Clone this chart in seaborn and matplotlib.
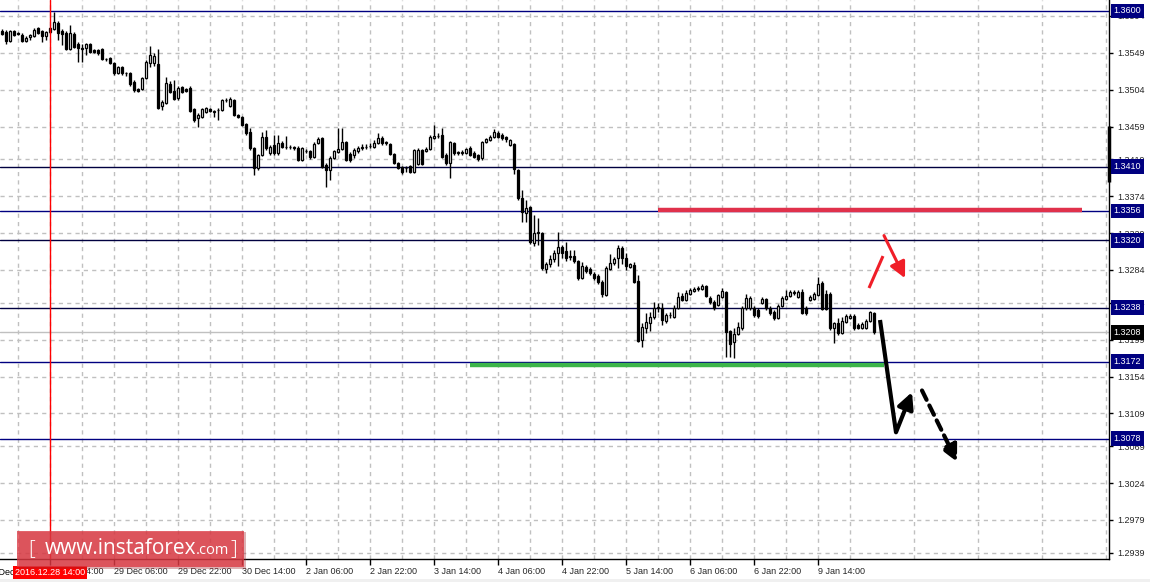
import matplotlib
matplotlib.use("Agg")
import matplotlib.pyplot as plt
import matplotlib.transforms as mtransforms
from matplotlib.patches import Rectangle
import seaborn as sns
import numpy as np

# --- hourly candles (27 Dec 2016 -> 9 Jan 2017) ---
opens = [1.3576, 1.3574, 1.3563, 1.3576, 1.3573, 1.3571, 1.3563, 1.3568, 1.3569, 1.3579,
         1.3576, 1.3569, 1.3579, 1.3578, 1.3585, 1.3576, 1.3573, 1.3554, 1.3572, 1.3560,
         1.3555, 1.3555, 1.3560, 1.3552, 1.3552, 1.3554, 1.3541, 1.3543, 1.3536, 1.3524,
         1.3532, 1.3524, 1.3524, 1.3513, 1.3505, 1.3505, 1.3518, 1.3536, 1.3536, 1.3535,
         1.3484, 1.3488, 1.3511, 1.3502, 1.3494, 1.3507, 1.3505, 1.3506, 1.3480, 1.3469,
         1.3471, 1.3477, 1.3480, 1.3477, 1.3479, 1.3479, 1.3491, 1.3484, 1.3491, 1.3473,
         1.3471, 1.3462, 1.3452, 1.3433, 1.3408, 1.3424, 1.3446, 1.3427, 1.3436, 1.3427,
         1.3439, 1.3434, 1.3434, 1.3434, 1.3433, 1.3418, 1.3429, 1.3429, 1.3422, 1.3439,
         1.3445, 1.3412, 1.3406, 1.3421, 1.3428, 1.3432, 1.3440, 1.3425, 1.3424, 1.3429,
         1.3433, 1.3434, 1.3435, 1.3434, 1.3439, 1.3445, 1.3439, 1.3438, 1.3425, 1.3414,
         1.3410, 1.3408, 1.3411, 1.3404, 1.3413, 1.3430, 1.3429, 1.3432, 1.3445, 1.3447,
         1.3449, 1.3424, 1.3414, 1.3439, 1.3427, 1.3427, 1.3427, 1.3433, 1.3427, 1.3424,
         1.3421, 1.3440, 1.3443, 1.3446, 1.3451, 1.3449, 1.3446, 1.3436, 1.3438, 1.3406,
         1.3372, 1.3353, 1.3361, 1.3317, 1.3329, 1.3329, 1.3285, 1.3291, 1.3297, 1.3305,
         1.3312, 1.3307, 1.3300, 1.3301, 1.3295, 1.3274, 1.3288, 1.3285, 1.3279, 1.3277,
         1.3269, 1.3253, 1.3285, 1.3292, 1.3299, 1.3311, 1.3299, 1.3288, 1.3290, 1.3271,
         1.3199, 1.3213, 1.3219, 1.3227, 1.3238, 1.3238, 1.3222, 1.3229, 1.3227, 1.3238,
         1.3252, 1.3247, 1.3255, 1.3258, 1.3261, 1.3261, 1.3264, 1.3250, 1.3245, 1.3241,
         1.3251, 1.3257, 1.3210, 1.3196, 1.3206, 1.3213, 1.3238, 1.3238, 1.3238, 1.3235,
         1.3244, 1.3249, 1.3238, 1.3233, 1.3225, 1.3240, 1.3249, 1.3252, 1.3256, 1.3251,
         1.3257, 1.3238, 1.3247, 1.3249, 1.3253, 1.3268, 1.3255, 1.3255, 1.3213, 1.3219,
         1.3207, 1.3221, 1.3225, 1.3228, 1.3217, 1.3213, 1.3213, 1.3222, 1.3231]
highs = [1.3578, 1.3577, 1.3577, 1.3577, 1.3574, 1.3573, 1.3569, 1.3572, 1.3579, 1.3581,
         1.3577, 1.3576, 1.3581, 1.3599, 1.3588, 1.3578, 1.3576, 1.3583, 1.3574, 1.3562,
         1.3560, 1.3561, 1.3561, 1.3554, 1.3554, 1.3555, 1.3543, 1.3544, 1.3538, 1.3533,
         1.3533, 1.3526, 1.3526, 1.3516, 1.3506, 1.3519, 1.3540, 1.3557, 1.3549, 1.3554,
         1.3491, 1.3519, 1.3515, 1.3516, 1.3508, 1.3508, 1.3506, 1.3508, 1.3482, 1.3475,
         1.3482, 1.3483, 1.3482, 1.3479, 1.3482, 1.3493, 1.3494, 1.3495, 1.3493, 1.3474,
         1.3472, 1.3463, 1.3457, 1.3434, 1.3425, 1.3452, 1.3455, 1.3436, 1.3449, 1.3449,
         1.3441, 1.3447, 1.3436, 1.3435, 1.3435, 1.3434, 1.3432, 1.3430, 1.3440, 1.3446,
         1.3446, 1.3414, 1.3423, 1.3430, 1.3457, 1.3457, 1.3441, 1.3428, 1.3433, 1.3435,
         1.3438, 1.3438, 1.3439, 1.3443, 1.3451, 1.3447, 1.3441, 1.3439, 1.3427, 1.3416,
         1.3411, 1.3411, 1.3412, 1.3432, 1.3433, 1.3432, 1.3434, 1.3449, 1.3461, 1.3451,
         1.3457, 1.3427, 1.3441, 1.3440, 1.3429, 1.3430, 1.3433, 1.3435, 1.3429, 1.3425,
         1.3441, 1.3445, 1.3449, 1.3456, 1.3454, 1.3451, 1.3447, 1.3444, 1.3439, 1.3407,
         1.3382, 1.3369, 1.3362, 1.3351, 1.3347, 1.3330, 1.3294, 1.3302, 1.3308, 1.3330,
         1.3314, 1.3318, 1.3308, 1.3308, 1.3296, 1.3294, 1.3290, 1.3288, 1.3282, 1.3279,
         1.3272, 1.3289, 1.3303, 1.3300, 1.3314, 1.3313, 1.3305, 1.3292, 1.3294, 1.3278,
         1.3219, 1.3231, 1.3233, 1.3245, 1.3244, 1.3244, 1.3231, 1.3233, 1.3241, 1.3257,
         1.3256, 1.3260, 1.3262, 1.3263, 1.3264, 1.3267, 1.3266, 1.3252, 1.3247, 1.3255,
         1.3262, 1.3258, 1.3211, 1.3213, 1.3221, 1.3240, 1.3255, 1.3252, 1.3240, 1.3238,
         1.3251, 1.3250, 1.3240, 1.3235, 1.3242, 1.3252, 1.3260, 1.3260, 1.3260, 1.3260,
         1.3261, 1.3240, 1.3253, 1.3257, 1.3275, 1.3271, 1.3260, 1.3257, 1.3221, 1.3225,
         1.3227, 1.3230, 1.3230, 1.3230, 1.3219, 1.3221, 1.3224, 1.3234, 1.3233]
lows = [1.3571, 1.3560, 1.3562, 1.3569, 1.3571, 1.3562, 1.3562, 1.3565, 1.3568, 1.3572,
        1.3562, 1.3565, 1.3573, 1.3577, 1.3565, 1.3558, 1.3552, 1.3552, 1.3555, 1.3538,
        1.3538, 1.3546, 1.3549, 1.3549, 1.3546, 1.3540, 1.3539, 1.3535, 1.3522, 1.3523,
        1.3522, 1.3521, 1.3508, 1.3501, 1.3501, 1.3504, 1.3517, 1.3532, 1.3533, 1.3480,
        1.3479, 1.3486, 1.3500, 1.3491, 1.3491, 1.3500, 1.3501, 1.3477, 1.3465, 1.3458,
        1.3469, 1.3475, 1.3477, 1.3471, 1.3467, 1.3478, 1.3489, 1.3483, 1.3472, 1.3469,
        1.3460, 1.3449, 1.3430, 1.3400, 1.3406, 1.3423, 1.3430, 1.3424, 1.3424, 1.3424,
        1.3433, 1.3432, 1.3432, 1.3430, 1.3417, 1.3417, 1.3427, 1.3419, 1.3421, 1.3438,
        1.3408, 1.3385, 1.3394, 1.3419, 1.3427, 1.3430, 1.3417, 1.3416, 1.3421, 1.3427,
        1.3430, 1.3432, 1.3433, 1.3433, 1.3438, 1.3436, 1.3436, 1.3424, 1.3413, 1.3407,
        1.3401, 1.3404, 1.3402, 1.3402, 1.3412, 1.3412, 1.3428, 1.3430, 1.3444, 1.3445,
        1.3421, 1.3412, 1.3396, 1.3424, 1.3424, 1.3424, 1.3425, 1.3423, 1.3421, 1.3417,
        1.3418, 1.3439, 1.3441, 1.3445, 1.3445, 1.3443, 1.3440, 1.3435, 1.3401, 1.3369,
        1.3343, 1.3343, 1.3316, 1.3313, 1.3314, 1.3284, 1.3280, 1.3288, 1.3294, 1.3289,
        1.3299, 1.3295, 1.3296, 1.3292, 1.3272, 1.3273, 1.3280, 1.3278, 1.3272, 1.3267,
        1.3251, 1.3252, 1.3284, 1.3290, 1.3286, 1.3291, 1.3284, 1.3286, 1.3268, 1.3196,
        1.3190, 1.3207, 1.3210, 1.3224, 1.3233, 1.3217, 1.3219, 1.3225, 1.3225, 1.3236,
        1.3246, 1.3246, 1.3253, 1.3257, 1.3258, 1.3260, 1.3251, 1.3242, 1.3235, 1.3240,
        1.3250, 1.3178, 1.3178, 1.3177, 1.3205, 1.3211, 1.3235, 1.3235, 1.3227, 1.3225,
        1.3242, 1.3235, 1.3229, 1.3223, 1.3224, 1.3239, 1.3247, 1.3251, 1.3253, 1.3250,
        1.3230, 1.3229, 1.3246, 1.3247, 1.3252, 1.3235, 1.3235, 1.3211, 1.3195, 1.3205,
        1.3206, 1.3219, 1.3224, 1.3211, 1.3212, 1.3212, 1.3212, 1.3221, 1.3206]
closes = [1.3572, 1.3563, 1.3576, 1.3571, 1.3572, 1.3563, 1.3567, 1.3571, 1.3577, 1.3573,
          1.3569, 1.3574, 1.3574, 1.3587, 1.3573, 1.3572, 1.3554, 1.3573, 1.3556, 1.3555,
          1.3554, 1.3560, 1.3550, 1.3550, 1.3549, 1.3541, 1.3541, 1.3536, 1.3524, 1.3532,
          1.3524, 1.3524, 1.3511, 1.3504, 1.3502, 1.3518, 1.3538, 1.3546, 1.3545, 1.3482,
          1.3489, 1.3512, 1.3501, 1.3493, 1.3506, 1.3501, 1.3502, 1.3478, 1.3467, 1.3473,
          1.3480, 1.3482, 1.3478, 1.3477, 1.3479, 1.3491, 1.3491, 1.3493, 1.3473, 1.3471,
          1.3461, 1.3451, 1.3433, 1.3408, 1.3424, 1.3446, 1.3433, 1.3434, 1.3427, 1.3439,
          1.3434, 1.3434, 1.3434, 1.3433, 1.3418, 1.3433, 1.3429, 1.3422, 1.3438, 1.3444,
          1.3410, 1.3406, 1.3421, 1.3429, 1.3432, 1.3440, 1.3418, 1.3418, 1.3430, 1.3433,
          1.3433, 1.3434, 1.3435, 1.3439, 1.3445, 1.3439, 1.3439, 1.3425, 1.3414, 1.3408,
          1.3404, 1.3408, 1.3404, 1.3430, 1.3430, 1.3413, 1.3432, 1.3446, 1.3447, 1.3447,
          1.3422, 1.3414, 1.3440, 1.3427, 1.3427, 1.3427, 1.3432, 1.3424, 1.3422, 1.3419,
          1.3440, 1.3444, 1.3446, 1.3452, 1.3446, 1.3445, 1.3444, 1.3443, 1.3407, 1.3372,
          1.3355, 1.3360, 1.3318, 1.3329, 1.3330, 1.3286, 1.3291, 1.3297, 1.3305, 1.3312,
          1.3305, 1.3299, 1.3300, 1.3295, 1.3274, 1.3289, 1.3283, 1.3280, 1.3274, 1.3269,
          1.3255, 1.3286, 1.3292, 1.3297, 1.3311, 1.3299, 1.3289, 1.3291, 1.3269, 1.3197,
          1.3214, 1.3221, 1.3227, 1.3238, 1.3239, 1.3223, 1.3229, 1.3229, 1.3238, 1.3251,
          1.3247, 1.3256, 1.3260, 1.3261, 1.3261, 1.3264, 1.3252, 1.3245, 1.3238, 1.3253,
          1.3258, 1.3208, 1.3194, 1.3206, 1.3214, 1.3238, 1.3250, 1.3250, 1.3229, 1.3228,
          1.3249, 1.3238, 1.3231, 1.3225, 1.3240, 1.3250, 1.3252, 1.3257, 1.3256, 1.3257,
          1.3231, 1.3231, 1.3251, 1.3255, 1.3267, 1.3236, 1.3236, 1.3213, 1.3219, 1.3207,
          1.3222, 1.3228, 1.3228, 1.3213, 1.3213, 1.3218, 1.3222, 1.3233, 1.3208]

time_labels = ["27 Dec 22:00", "28 Dec 14:00", "29 Dec 06:00", "29 Dec 22:00",
               "30 Dec 14:00", "2 Jan 06:00", "2 Jan 22:00", "3 Jan 14:00",
               "4 Jan 06:00", "4 Jan 22:00", "5 Jan 14:00", "6 Jan 06:00",
               "6 Jan 22:00", "9 Jan 14:00"]
price_ticks = [1.3594, 1.3549, 1.3504, 1.3459, 1.3419, 1.3374, 1.3329, 1.3284,
               1.3244, 1.3199, 1.3154, 1.3109, 1.3069, 1.3024, 1.2979, 1.2939]

levels_blue = [1.3600, 1.3356, 1.3172, 1.3078]
levels_dark = [1.3410, 1.3320, 1.3238]
current_price = 1.3208

# analyst drawings (bar index, price)
resistance = ([164, 270], [1.3357, 1.3357])
support = ([117, 220.5], [1.3168, 1.3168])
red_up = ([216.75, 220.25], [1.3262, 1.3301])
red_down = ([220.5, 225.75], [1.3326, 1.3274])
black_down = ([219.5, 223.5], [1.3223, 1.3086])
black_up = ([223.5, 227.5], [1.3086, 1.3135])
black_dash = ([230, 238.75], [1.3137, 1.3050])
vline_bar = 12
x_range = (-0.5, 276.75)
y_range = (1.29314, 1.36134)

sns.set_theme(style="white")
plt.rcParams['font.family'] = ['Liberation Sans', 'DejaVu Sans']

fig = plt.figure(figsize=(11.5, 5.82), dpi=100)
ax = fig.add_axes([0.0, 23 / 582, 1109 / 1150, 559 / 582])

n = len(closes)
x = np.arange(n)
o = np.array(opens)
c = np.array(closes)
h = np.array(highs)
l = np.array(lows)

# wicks
ax.vlines(x, l, h, color='black', lw=1, zorder=3)
# bodies
up = c >= o
body_lo = np.minimum(o, c)
body_h = np.maximum(np.abs(c - o), 0.00006)
ax.bar(x[up], body_h[up], bottom=body_lo[up], width=0.72, color='white',
       edgecolor='black', lw=0.9, zorder=4)
ax.bar(x[~up], body_h[~up], bottom=body_lo[~up], width=0.72, color='black',
       edgecolor='black', lw=0.9, zorder=4)

# ticks / grid
tick_pos = np.arange(-4, -4 + 16 * len(time_labels), 16)
ax.set_xticks(tick_pos[1:])
ax.set_xticklabels(time_labels[1:])
ax.set_xticks(np.arange(4, 277, 16), minor=True)
ax.set_yticks(price_ticks)
ax.set_yticklabels([f"{v:.4f}" for v in price_ticks])
ax.set_xlim(*x_range)
ax.set_ylim(*y_range)
ax.grid(True, which='both', color='#c0c0c0', ls=(0, (3, 3)), lw=1)
ax.tick_params(axis='x', which='minor', length=0)
ax.yaxis.tick_right()
ax.tick_params(axis='x', which='major', direction='out', length=4, width=1,
               color='black', labelsize=6.5, pad=2, bottom=True)
ax.tick_params(axis='y', direction='out', length=3, width=1, color='black',
               labelsize=6.5, pad=3, right=True)
for lbl in ax.get_xticklabels():
    lbl.set_ha('left')

trans_b = mtransforms.blended_transform_factory(ax.transData, ax.transAxes)
# first label sits left of the visible range and is cut by the window edge
ax.text(tick_pos[0], -0.0165, time_labels[0], transform=trans_b, fontsize=6.5,
        color='black', ha='left', va='top', clip_on=False)

for side in ['top', 'left']:
    ax.spines[side].set_visible(False)
for side in ['bottom', 'right']:
    ax.spines[side].set_color('black')
    ax.spines[side].set_linewidth(1)

# horizontal levels
for lv in levels_blue:
    ax.axhline(lv, color='#000080', lw=1, zorder=2)
for lv in levels_dark:
    ax.axhline(lv, color='#000040', lw=1, zorder=2)
ax.axhline(current_price, color='#c0c0c0', lw=1, zorder=1.5)

# price label boxes on the right axis
trans_r = mtransforms.blended_transform_factory(ax.transAxes, ax.transData)
for lv in levels_blue + levels_dark:
    ax.text(1.004, lv, f"{lv:.4f}", transform=trans_r, fontsize=6.5, color='white',
            va='center', ha='left', zorder=10, clip_on=False,
            bbox=dict(boxstyle='square,pad=0.32', fc='#000080', ec='none'))
ax.text(1.004, current_price, f"{current_price:.4f}", transform=trans_r, fontsize=6.5,
        color='white', va='center', ha='left', zorder=10, clip_on=False,
        bbox=dict(boxstyle='square,pad=0.32', fc='black', ec='none'))
# live bar marker at the right edge
ax.plot([x_range[1], x_range[1]], [1.3391, 1.3460], color='black', lw=2.5, clip_on=False,
        solid_capstyle='butt', zorder=6)

# red vertical date line and its label
ax.axvline(vline_bar, color='red', lw=1, zorder=5)
ax.text(vline_bar, -0.0165, "2016.12.28 14:00", transform=trans_b, fontsize=6.5,
        color='white', ha='center', va='top', clip_on=False, zorder=10,
        bbox=dict(boxstyle='square,pad=0.2', fc='#ff0000', ec='none'))

# resistance / support lines
ax.plot(*resistance, color='#e0314b', lw=3.2, solid_capstyle='butt', zorder=6)
ax.plot(*support, color='#3cb54a', lw=3.2, solid_capstyle='butt', zorder=6)

# forecast arrows
ax.plot(*red_up, color='#f01e28', lw=2.2, solid_capstyle='butt', zorder=7)
ax.annotate('', xy=(red_down[0][1], red_down[1][1]), xytext=(red_down[0][0], red_down[1][0]),
            arrowprops=dict(arrowstyle='-|>,head_length=0.8,head_width=0.4', color='#f01e28',
                            lw=2.2, shrinkA=0, shrinkB=0), zorder=7)
ax.plot(*black_down, color='black', lw=3, solid_capstyle='butt', zorder=7)
ax.annotate('', xy=(black_up[0][1], black_up[1][1]), xytext=(black_up[0][0], black_up[1][0]),
            arrowprops=dict(arrowstyle='-|>,head_length=0.8,head_width=0.4', color='black',
                            lw=3, shrinkA=0, shrinkB=0), zorder=7)
ax.annotate('', xy=(black_dash[0][1], black_dash[1][1]), xytext=(black_dash[0][0], black_dash[1][0]),
            arrowprops=dict(arrowstyle='-|>,head_length=0.8,head_width=0.4', color='black',
                            lw=3, ls=(0, (2.5, 1.5)), shrinkA=0, shrinkB=0), zorder=7)

# light window border strip at the very bottom
fig.patches.append(Rectangle((0, 0), 1, 3 / 582, transform=fig.transFigure,
                             fc='#f0f0f0', ec='none', zorder=0))

# watermark
fig.patches.append(Rectangle((19 / 1150, 13 / 582), 227 / 1150, 37 / 582,
                             transform=fig.transFigure, fc='#a02028', ec='none', alpha=0.35, zorder=20))
fig.patches.append(Rectangle((17 / 1150, 15 / 582), 227 / 1150, 36 / 582,
                             transform=fig.transFigure, fc='#dc3a44', ec='none', alpha=0.78, zorder=21))
fig.text(28 / 1150, 33 / 582, "[", color='white', fontsize=15, va='center', ha='left',
         family='Open Sans', fontweight='light', zorder=22)
fig.text(45 / 1150, 33 / 582, "www.instaforex", color='white', fontsize=15, va='center',
         ha='left', family='Open Sans', zorder=22)
fig.text(196 / 1150, 31 / 582, ".com", color='white', fontsize=10.5, va='center', ha='left',
         family='Open Sans', zorder=22)
fig.text(230 / 1150, 33 / 582, "]", color='white', fontsize=15, va='center', ha='left',
         family='Open Sans', fontweight='light', zorder=22)

fig.savefig("out.png", dpi=100, facecolor='white')
